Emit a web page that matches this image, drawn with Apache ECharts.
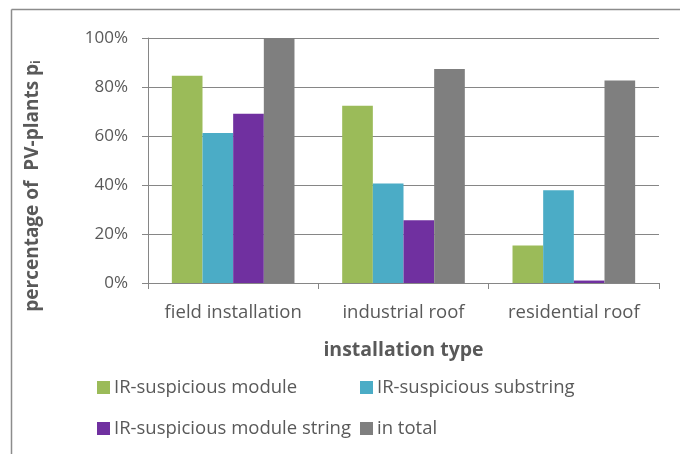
<!DOCTYPE html>
<html>
<head>
<meta charset="utf-8">
<script src="https://cdn.jsdelivr.net/npm/echarts@6/dist/echarts.min.js"></script>
<style>
  html, body { margin: 0; padding: 0; background: #fff; }
  #chart { width: 680px; height: 454px; }
</style>
</head>
<body>
<div id="chart"></div>
<script>
// data (percent)
var categories = ["field installation", "industrial roof", "residential roof"];
var irModule   = [84.6, 72.3, 15.3];
var irSubstr   = [61.2, 40.6, 37.9];
var irString   = [69.1, 25.6, 1.0];
var inTotal    = [100, 87.3, 82.7];
var yTicks     = [0, 20, 40, 60, 80, 100];

var seriesNames = ["IR-suspicious module", "IR-suspicious substring", "IR-suspicious module string", "in total"];
var colors = ["#9BBB59", "#4BACC6", "#7030A0", "#7F7F7F"];

var txt = "#595959";
var axisGray = "#868686";
var font = "Open Sans";

var myCharts = echarts.init(document.getElementById("chart"));

// one legend per item so they sit in two columns like the original
function legendAt(name, left, top) {
    return {
        data: [name],
        left: left,
        top: top,
        padding: 0,
        itemWidth: 13,
        itemHeight: 13,
        itemGap: 0,
        icon: "rect",
        textStyle: { color: txt, fontFamily: font, fontSize: 18.5, padding: [0, 0, 0, -1] }
    };
}

myCharts.setOption({
    animation: false,
    backgroundColor: "#fff",
    color: colors,
    grid: { left: 148, right: 21, top: 38, bottom: 171, containLabel: false },
    legend: [
        legendAt(seriesNames[0], 97, 378),
        legendAt(seriesNames[1], 360, 378),
        legendAt(seriesNames[2], 97, 419),
        legendAt(seriesNames[3], 360, 419)
    ],
    xAxis: {
        type: "category",
        data: categories,
        name: "installation type",
        nameLocation: "middle",
        nameGap: 57,
        nameTextStyle: { color: txt, fontFamily: font, fontSize: 19.5, fontWeight: "bold" },
        axisLine: { lineStyle: { color: axisGray, width: 1 } },
        axisTick: { show: true, length: 6, lineStyle: { color: axisGray } },
        axisLabel: { color: txt, fontFamily: font, fontSize: 18.5, margin: 20, interval: 0, hideOverlap: false }
    },
    yAxis: {
        type: "value",
        min: 0,
        max: 100,
        interval: 20,
        axisLine: { show: true, lineStyle: { color: axisGray, width: 1 } },
        axisTick: { show: true, length: 6, lineStyle: { color: axisGray } },
        splitLine: { lineStyle: { color: axisGray, width: 1 } },
        axisLabel: { color: txt, fontFamily: font, fontSize: 17, margin: 20, formatter: "{value}%" }
    },
    graphic: [
        // outer frame, only left and top edges are visible in the picture
        { type: "line", shape: { x1: 11.5, y1: 9.5, x2: 680, y2: 9.5 }, style: { stroke: "#8c8c8c", lineWidth: 1.5 } },
        { type: "line", shape: { x1: 11.5, y1: 9.5, x2: 11.5, y2: 454 }, style: { stroke: "#8c8c8c", lineWidth: 1.5 } },
        {
            type: "text",
            x: 33,
            y: 186,
            rotation: Math.PI / 2,
            style: {
                text: "{a|percentage of  PV-plants p}{s|i}",
                align: "center",
                verticalAlign: "middle",
                fill: txt,
                rich: {
                    a: { fill: txt, fontFamily: font, fontSize: 19, fontWeight: "bold" },
                    s: { fill: txt, fontFamily: font, fontSize: 12, fontWeight: "bold", padding: [8, 0, 0, 0] }
                }
            }
        }
    ],
    series: [
        { name: seriesNames[0], type: "bar", data: irModule, barGap: "0%", barCategoryGap: "28%" },
        { name: seriesNames[1], type: "bar", data: irSubstr },
        { name: seriesNames[2], type: "bar", data: irString },
        { name: seriesNames[3], type: "bar", data: inTotal }
    ]
});
</script>
</body>
</html>
